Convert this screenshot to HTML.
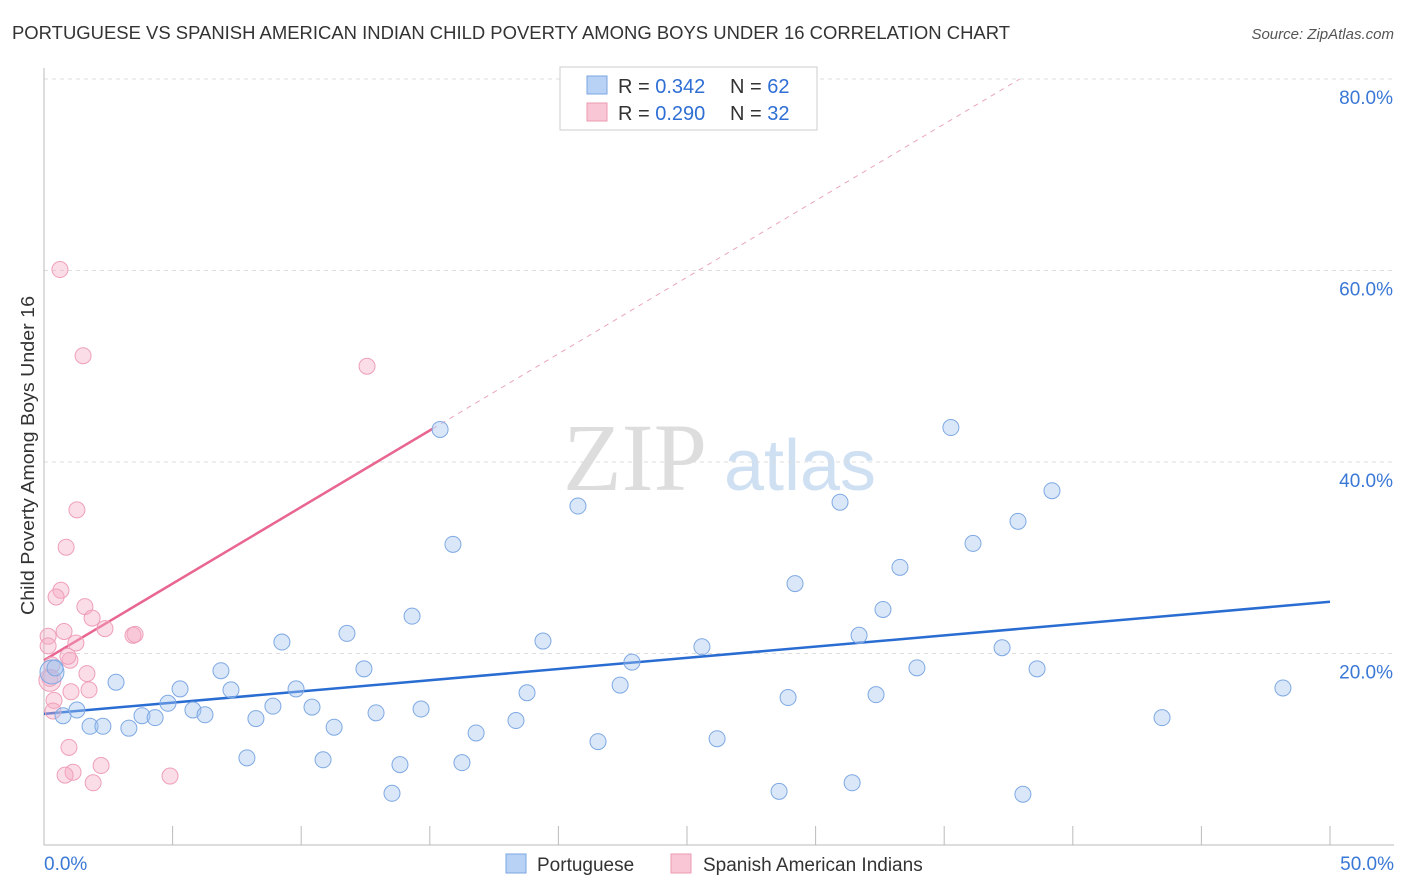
<!DOCTYPE html>
<html><head><meta charset="utf-8"><style>
body{margin:0;background:#fff;font-family:"Liberation Sans",sans-serif;}
svg{display:block}
</style></head><body>
<svg id="c" width="1406" height="892" xmlns="http://www.w3.org/2000/svg">
<text x="12" y="39" font-size="18.5" fill="#333" textLength="998" lengthAdjust="spacingAndGlyphs">PORTUGUESE VS SPANISH AMERICAN INDIAN CHILD POVERTY AMONG BOYS UNDER 16 CORRELATION CHART</text>
<text x="1394" y="39" font-size="15" fill="#555" font-style="italic" text-anchor="end">Source: ZipAtlas.com</text>
<text transform="translate(34,615) rotate(-90)" font-size="18.5" fill="#333" textLength="319" lengthAdjust="spacingAndGlyphs">Child Poverty Among Boys Under 16</text>
<g>
<text x="635" y="490" font-size="96" font-family="Liberation Serif,serif" fill="#ddd" text-anchor="middle">ZIP</text>
<text x="800" y="490" font-size="72" fill="#cfe0f3" text-anchor="middle">atlas</text>
</g>
<g id="grid"></g><g id="axes"></g><g id="lines"></g><g id="pts"></g>
<g>
<rect x="560" y="67" width="257" height="63" fill="#fff" stroke="#ccc"/>
<rect x="587" y="76" width="20" height="18" fill="#b8d2f5" stroke="#7aa5e0"/>
<rect x="587" y="103" width="20" height="18" fill="#f8c6d4" stroke="#eb9ab2"/>
<text x="618" y="93" font-size="20" fill="#333">R = <tspan fill="#2f6fd4">0.342</tspan></text>
<text x="730" y="93" font-size="20" fill="#333">N = <tspan fill="#2f6fd4">62</tspan></text>
<text x="618" y="120" font-size="20" fill="#333">R = <tspan fill="#2f6fd4">0.290</tspan></text>
<text x="730" y="120" font-size="20" fill="#333">N = <tspan fill="#2f6fd4">32</tspan></text>
</g>
<g>
<rect x="506" y="854" width="20" height="19" fill="#b8d2f5" stroke="#7aa5e0"/>
<text x="537" y="871" font-size="19" fill="#333">Portuguese</text>
<rect x="671" y="854" width="20" height="19" fill="#f8c6d4" stroke="#eb9ab2"/>
<text x="703" y="871" font-size="19" fill="#333">Spanish American Indians</text>
</g>
</svg>
<script>
const blueX=[0.31,0.43,0.74,1.28,1.79,2.29,2.8,3.3,3.81,4.32,4.82,5.29,5.79,6.26,6.88,7.27,8.24,7.89,8.9,9.25,9.8,10.42,10.85,11.28,11.78,12.44,12.91,13.53,13.84,14.31,14.66,15.4,15.9,16.25,16.8,18.35,18.78,19.4,20.76,21.54,22.4,22.86,25.58,26.17,28.58,28.93,29.2,30.95,31.42,31.69,32.35,32.62,33.28,33.94,35.26,36.12,37.25,37.87,38.06,38.61,39.19,43.47,48.17];
const blueY=[18.07,18.5,13.5,14.1,12.4,12.4,17.0,12.2,13.5,13.3,14.8,16.3,14.1,13.6,18.2,16.2,13.2,9.1,14.5,21.2,16.3,14.4,8.9,12.3,22.1,18.4,13.8,5.4,8.4,23.9,14.2,43.4,31.4,8.6,11.7,13.0,15.9,21.3,35.4,10.8,16.7,19.1,20.7,11.1,5.6,15.4,27.3,35.8,6.5,21.9,15.7,24.6,29.0,18.5,43.6,31.5,20.6,33.8,5.3,18.4,37.0,13.3,16.4];
const pinkX=[0.62,1.52,12.56,1.28,0.86,0.66,0.47,1.59,1.87,0.16,0.78,2.37,3.46,3.54,0.16,1.24,1.01,0.93,0.31,1.67,0.23,0.39,1.05,1.75,0.35,0.97,1.13,0.82,2.22,1.91,4.9,0.23];
const pinkY=[60.1,51.1,50.0,35.0,31.1,26.6,25.9,24.9,23.7,21.8,22.3,22.6,21.9,22.0,20.8,21.1,19.3,19.7,18.8,17.9,17.4,15.1,16.0,16.2,14.0,10.2,7.6,7.3,8.3,6.5,7.2,17.2];
const blueFit=[13.7,25.4];
const pinkFit=[19.3,1.6];
const yTicks=[20,40,60,80];
const xTicks=[0,5,10,15,20,25,30,35,40,45,50];
const NS="http://www.w3.org/2000/svg";
const X=v=>44+v*25.72, Y=v=>845-v*9.575;
function mk(t,a,p){const e=document.createElementNS(NS,t);for(const k in a)e.setAttribute(k,a[k]);document.getElementById(p).appendChild(e);return e;}
yTicks.forEach(t=>{
 const g=mk('line',{x1:44,x2:1394,y1:Y(t),y2:Y(t),stroke:'#ddd','stroke-dasharray':'4,4'},'grid');
 
 
 const l=mk('text',{x:1393,y:Y(t)+25,'font-size':19,fill:'#3a78d6','text-anchor':'end'},'grid');l.textContent=t.toFixed(1)+'%';
 
 
});
const ax=mk('line',{x1:44,x2:44,y1:68,y2:845,stroke:'#bbb'},'axes');


const bx=mk('line',{x1:44,x2:1394,y1:845,y2:845,stroke:'#bbb'},'axes');


xTicks.forEach(t=>{const e=mk('line',{x1:X(t),x2:X(t),y1:826,y2:845,stroke:'#bbb'},'axes');
 
 });
[[0,'start',44],[50,'end',1394]].forEach(([t,a,x])=>{const e=mk('text',{x:x,y:870,'font-size':19,fill:'#3a78d6','text-anchor':a},'axes');e.textContent=t.toFixed(1)+'%';
 
 });
const pEnd=(80-pinkFit[0])/pinkFit[1];
const pd=mk('line',{x1:X(15.1),y1:Y(pinkFit[0]+pinkFit[1]*15.1),x2:X(pEnd),y2:Y(80),stroke:'#eaa5bb','stroke-dasharray':'5,5','stroke-width':1},'lines');


pinkX.forEach((x,i)=>{const c=mk('circle',{cx:X(x),cy:Y(pinkY[i]),r:(i===31?11:8),fill:'rgba(244,170,195,0.4)',stroke:'#eea0b8','stroke-width':1},'pts');
 
 });
blueX.forEach((x,i)=>{const c=mk('circle',{cx:X(x),cy:Y(blueY[i]),r:(i===0?12:8),fill:'rgba(160,195,240,0.4)',stroke:'#7fa9e3','stroke-width':1},'pts');
 
 });
const bl=mk('line',{x1:X(0),y1:Y(blueFit[0]),x2:X(50),y2:Y(blueFit[1]),stroke:'#2a6dd2','stroke-width':2.5},'lines');


const pl=mk('line',{x1:X(0),y1:Y(pinkFit[0]),x2:X(15.1),y2:Y(pinkFit[0]+pinkFit[1]*15.1),stroke:'#e8668f','stroke-width':2.5},'lines');


</script>
</body></html>
